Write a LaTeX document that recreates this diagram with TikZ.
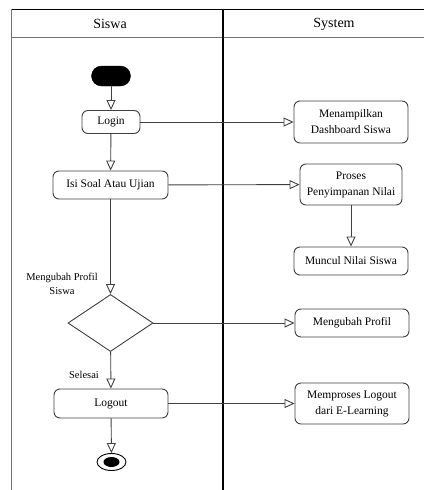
\documentclass[tikz,border=0pt]{standalone}
\usepackage{fontspec}
\setmainfont{Liberation Serif}
\usetikzlibrary{arrows.meta,shapes.geometric}
\definecolor{edgegray}{gray}{0.25}
\definecolor{lanegray}{gray}{0.45}
\tikzset{
  act/.style={draw=edgegray, line width=0.9pt, rounded corners=6pt, fill=white,
    align=center, inner sep=0pt, font=\fontsize{11.5}{16}\selectfont},
  lbl/.style={align=center, inner sep=0pt, font=\fontsize{10.5}{14}\selectfont},
  flow/.style={draw=edgegray, line width=0.9pt,
    -{Triangle[open, length=10pt, width=9pt, fill=white]}},
  hdr/.style={font=\fontsize{14}{16}\selectfont, inner sep=0pt},
}
\begin{document}
\begin{tikzpicture}[x=1pt, y=-1pt]
\useasboundingbox (0,0) rectangle (424,490);

% swimlane frame
\draw[black, line width=0.8pt] (11,9) -- (424,9);
\draw[lanegray, line width=1.6pt] (11,37.5) -- (424,37.5);
\draw[lanegray, line width=1.2pt] (11.5,9) -- (11.5,490);
\draw[black, line width=2pt] (223,9) -- (223,490);
\node[hdr] (h1) at (110,24) {Siswa};
\node[hdr] (h2) at (334,24) {System};

% start / end
\node[draw=black, fill=black, rounded corners=10pt, minimum width=39pt,
  minimum height=20pt, inner sep=0pt] (start) at (111,76) {};
\node[draw=black, line width=0.9pt, ellipse, minimum width=29pt,
  minimum height=17pt, inner sep=0pt] (end) at (111.5,462) {};
\node[fill=black, ellipse, minimum width=16pt, minimum height=10pt,
  inner sep=0pt] (endin) at (111.5,462) {};

% Siswa lane
\node[act, minimum width=58pt, minimum height=23pt] (login) at (111,122) {Login};
\node[act, minimum width=115pt, minimum height=28pt] (isi) at (110.5,185) {Isi Soal Atau Ujian};
\node[draw=edgegray, line width=0.9pt, diamond, minimum width=85pt,
  minimum height=57pt, inner sep=0pt] (dec) at (110.5,323) {};
\node[act, minimum width=114pt, minimum height=29pt] (logout) at (111,403.5) {Logout};
\node[lbl] (lprof) at (62,284) {Mengubah Profil\\Siswa};
\node[lbl] (lsel) at (84,375) {Selesai};

% System lane
\node[act, minimum width=114pt, minimum height=42pt] (dash) at (351,122) {Menampilkan\\Dashboard Siswa};
\node[act, minimum width=102pt, minimum height=41pt] (proses) at (351,184.5) {Proses\\Penyimpanan Nilai};
\node[act, minimum width=114pt, minimum height=28pt] (muncul) at (351,261) {Muncul Nilai Siswa};
\node[act, minimum width=114pt, minimum height=28pt] (ubah) at (352,323) {Mengubah Profil};
\node[act, minimum width=114pt, minimum height=41pt] (proslog) at (352,403.5) {Memproses Logout\\dari E-Learning};

% flows
\draw[flow] (start) -- (login);
\draw[flow] (login) -- (isi);
\draw[flow] (isi) -- (dec);
\draw[flow] (dec) -- (logout);
\draw[flow] (logout) -- (end);
\draw[flow] (login) -- (dash);
\draw[flow] (isi) -- (proses);
\draw[flow] (proses) -- (muncul);
\draw[flow] (dec.east) -- (ubah.west);
\draw[flow] (logout) -- (proslog);
\end{tikzpicture}
\end{document}
